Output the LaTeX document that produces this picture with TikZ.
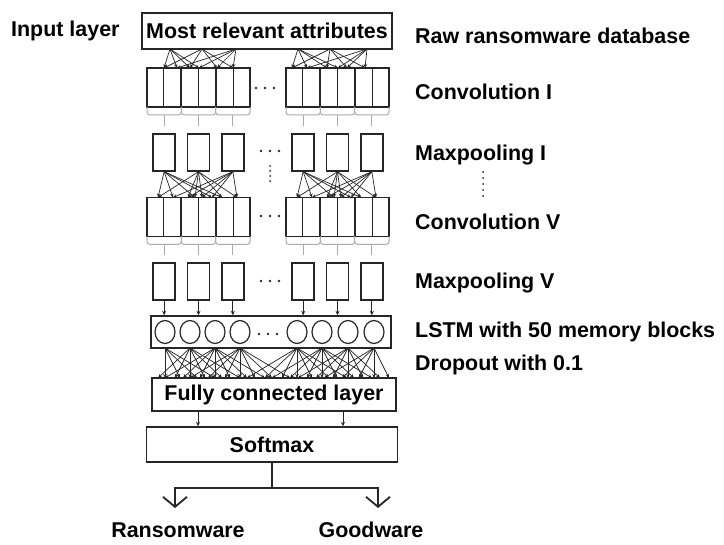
\documentclass[tikz,border=0pt]{standalone}
\usepackage{fontspec}
\setmainfont{Liberation Sans}
\usetikzlibrary{arrows.meta,calc,shapes.geometric}
\definecolor{ink}{HTML}{262626}
\definecolor{bracegray}{HTML}{ABABAB}
\begin{document}
\begin{tikzpicture}[x=1bp,y=-1bp,
  lbl/.style={font=\bfseries\fontsize{21.5}{24}\selectfont, text=black, inner sep=0pt},
  box/.style={draw=ink, line width=1.4bp, fill=white, inner sep=0pt},
  cellrow/.style={draw=ink, line width=1.4bp, inner sep=0pt, minimum width=103bp, minimum height=39bp},
  divider/.style={draw=ink, line width=1.4bp},
  pool/.style={draw=ink, line width=1.4bp, inner sep=0pt, minimum width=22bp, minimum height=37bp},
  memcell/.style={draw=ink, line width=1.2bp, ellipse, minimum width=20bp, minimum height=23bp, inner sep=0pt},
  brace/.style={draw=bracegray, line width=1bp},
  link/.style={draw=ink, line width=0.7bp, -{Stealth[length=4bp,width=3.5bp]}},
  stem/.style={draw=ink, line width=0.9bp, -{Stealth[length=4.5bp,width=4bp]}},
  outarrow/.style={draw=ink, line width=1.8bp, -{Straight Barb[length=10bp,width=24bp,line width=1.8bp]}},
  dot/.style={fill=ink, circle, inner sep=0pt, minimum size=2.8bp},
]
\useasboundingbox (0,0) rectangle (724,545);

% ---- labels on the left and right ----
\node[lbl, anchor=west] (inlbl) at (11,31) {Input layer};
\node[lbl, anchor=west] (rawlbl) at (415,36) {Raw ransomware database};
\node[lbl, anchor=west] (c1lbl) at (415,92) {Convolution I};
\node[lbl, anchor=west] (p1lbl) at (415,155) {Maxpooling I};
\node[lbl, anchor=west] (c5lbl) at (415,222) {Convolution V};
\node[lbl, anchor=west] (p5lbl) at (415,283) {Maxpooling V};
\node[lbl, anchor=west] (lstmlbl) at (415,332) {LSTM with 50 memory blocks};
\node[lbl, anchor=west] (droplbl) at (415,365) {Dropout with 0.1};
\foreach \k in {0,...,4} \node[dot, minimum size=2bp] (vd\k) at (483,172+6*\k) {};

% ---- input box ----
\node[box, lbl, minimum width=250bp, minimum height=36bp] (attr) at (267,31) {Most relevant attributes};

% ---- convolution blocks with their pooling braces ----
\foreach \blk/\cx/\cy in {cIL/198.5/87.5, cIR/337.5/87.5, cVL/198.5/217, cVR/337.5/217} {
  \node[cellrow] (\blk) at (\cx,\cy) {};
  \foreach \k in {1,...,5}
    \draw[divider] ($(\blk.north west)!\k/6!(\blk.north east)$) -- ($(\blk.south west)!\k/6!(\blk.south east)$);
  \foreach \p in {0,1,2} {
    \pgfmathsetmacro\xl{\cx-51.5+\p*34.333}
    \pgfmathsetmacro\xr{\xl+34.333}
    \pgfmathsetmacro\xc{\xl+17.167}
    \pgfmathsetmacro\yt{\cy+19.5}
    \draw[brace] (\xl,\yt) -- (\xl,\yt+5) to[out=-90,in=180] (\xl+3,\yt+8) -- (\xr-3,\yt+8) to[out=0,in=-90] (\xr,\yt+5) -- (\xr,\yt);
    \coordinate (\blk-b\p) at (\xc,\yt+8);
    \coordinate (\blk-e\p) at (\xc,\yt+19);
    \draw[brace] (\blk-b\p) -- (\blk-e\p);
  }
}

% ---- pooling boxes ----
\foreach \row/\cy in {pI/152.5, pV/281.5}
  \foreach \g/\xo in {L/147, R/286}
    \foreach \p in {1,2,3}
      \node[pool] (\row\g\p) at (\xo-17.167+\p*34.333,\cy) {};

% ---- horizontal ellipsis between the two halves ----
\foreach \r/\y/\xa in {a/88/256, b/151/261, c/216/261, d/281/261}
  \foreach \k in {0,1,2}
    \node[dot] (hd\r\k) at (\xa+9*\k,\y) {};
\foreach \k in {0,...,3} \node[dot, minimum size=2bp] (md\k) at (270,166+5*\k) {};

% ---- input box to Convolution I ----
\foreach \g/\xo/\sa/\sb/\sc/\ta/\tb/\tc/\td/\te/\tf in
   {L/147/23/55/89/17/30/43/52/70/86, R/286/12/44/81/6/21/41/52/61/79} {
  \coordinate (a\g1) at (\xo+\sa,49);
  \coordinate (a\g2) at (\xo+\sb,49);
  \coordinate (a\g3) at (\xo+\sc,49);
  \foreach \j/\dx in {1/\ta,2/\tb,3/\tc,4/\td,5/\te,6/\tf}
    \coordinate (b\g\j) at (\xo+\dx,68);
  \foreach \i/\j in {1/1,1/2,1/3,1/4,2/1,2/3,2/5,2/6,3/2,3/4,3/5,3/6}
    \draw[link] (a\g\i) -- (b\g\j);
}

% ---- Maxpooling I to Convolution V ----
\foreach \g/\xo in {L/147, R/286} {
  \foreach \j/\dx in {1/11,2/26,3/41,4/48,5/55,6/65,7/75,8/90}
    \coordinate (v\g\j) at (\xo+\dx,197.5);
  \foreach \i/\j in {1/1,1/2,1/4,1/6,1/7,2/1,2/3,2/4,2/5,2/7,2/8,3/2,3/3,3/5,3/6,3/8}
    \draw[link] (pI\g\i.south) -- (v\g\j);
}

% ---- LSTM layer ----
\node[box, minimum width=240bp, minimum height=32bp] (lstm) at (271,332) {};
\foreach \k/\x in {1/165,2/190,3/215,4/240,5/297,6/322,7/348,8/374}
  \node[memcell] (m\k) at (\x,332) {};
\foreach \k in {0,1,2} \node[dot] (ld\k) at (259+9*\k,334) {};

% Maxpooling V into the LSTM
\foreach \g in {L,R}
  \foreach \p in {1,2,3}
    \draw[stem] (pV\g\p.south) -- (pV\g\p.south |- lstm.north);

% ---- fully connected layer ----
\node[box, lbl, minimum width=244bp, minimum height=33bp] (fc) at (274,394.5) {Fully connected layer};

% dense links with dropout between LSTM and the dense layer
\foreach \k/\x in {1/165,2/190,3/215,4/240,5/297,6/322,7/348,8/374} {
  \coordinate (ls\k) at (\x,348);
  \foreach \d [count=\n] in {-50,-32,-15,0,15,32,50} {
    \pgfmathtruncatemacro\ok{((\x+\d)>155)&&((\x+\d)<393)}
    \ifnum\ok=1
      \coordinate (ft\k-\n) at (\x+\d,378);
      \draw[link] (ls\k) -- (ft\k-\n);
    \fi
  }
}

% ---- softmax ----
\node[box, lbl, minimum width=251bp, minimum height=35bp] (soft) at (272,444.5) {Softmax};
\coordinate (fcA) at (198,411);
\coordinate (fcB) at (343,411);
\draw[stem] (fcA) -- (fcA |- soft.north);
\draw[stem] (fcB) -- (fcB |- soft.north);

% ---- two outputs ----
\coordinate (split) at (272,488);
\coordinate (ransA) at (175,508);
\coordinate (goodA) at (378,508);
\draw[ink, line width=1.8bp] (soft.south) -- (split);
\draw[outarrow] (split) -| (ransA);
\draw[outarrow] (split) -| (goodA);
\node[lbl] (rans) at (178,530) {Ransomware};
\node[lbl] (good) at (371,530) {Goodware};
\end{tikzpicture}
\end{document}
